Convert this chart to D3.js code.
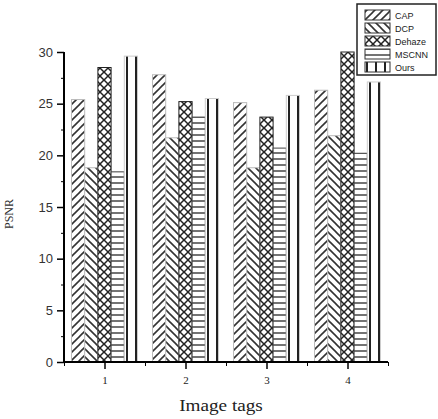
<!DOCTYPE html>
<html>
<head>
<meta charset="utf-8">
<script src="https://cdn.jsdelivr.net/npm/d3@7"></script>
<style>
body{margin:0;background:#fff}
</style>
</head>
<body>
<script>
var tags=["1","2","3","4"]
var methods=["CAP","DCP","Dehaze","MSCNN","Ours"]
var cap=[25.4,27.8,25.1,26.3]
var dcp=[18.8,21.7,18.8,21.9]
var dehaze=[28.5,25.2,23.7,30.0]
var mscnn=[18.4,23.7,20.7,20.2]
var ours=[29.6,25.5,25.8,27.1]
var yTicks=[0,5,10,15,20,25,30]

var series=[cap,dcp,dehaze,mscnn,ours]
var screen={width:438,height:419}
var margin={top:52,right:50,bottom:57,left:64}

var svg=d3.select("body").append("svg")
  .attr("width",screen.width)
  .attr("height",screen.height)

var defs=svg.append("defs")
// hatch patterns, one per method
var pat=function(id,w,h,lines,col,sw){
  var p=defs.append("pattern").attr("id",id)
    .attr("patternUnits","userSpaceOnUse")
    .attr("width",w).attr("height",h)
  p.append("rect").attr("width",w).attr("height",h).style("fill","#fff")
  lines.forEach(function(l){
    p.append("line").attr("x1",l[0]).attr("y1",l[1]).attr("x2",l[2]).attr("y2",l[3])
      .style("stroke",col).style("stroke-width",sw)
  })
}
pat("p0",8,8,[[0,8,8,0],[-2,2,2,-2],[6,10,10,6]],"#333",1.6)
pat("p1",8,8,[[0,0,8,8],[-2,6,2,10],[6,-2,10,2]],"#333",1.6)
pat("p2",8,8,[[0,8,8,0],[-2,2,2,-2],[6,10,10,6],[0,0,8,8],[-2,6,2,10],[6,-2,10,2]],"#222",1.5)
pat("p3",6,6,[[0,3,6,3]],"#444",1.5)
pat("p4",9,6,[[1,0,1,6]],"#222",2)

var borders=["#bbb","#bbb","#222","#444","#ccc"]

var xScale=d3.scaleLinear().domain([0.5,4.5]).range([margin.left,screen.width-margin.right])
var band=d3.scaleBand().domain(tags).range([margin.left,screen.width-margin.right]).paddingInner(0.185).paddingOuter(0.0925)
var inner=d3.scaleBand().domain(methods).range([0,band.bandwidth()])
var yScale=d3.scaleLinear().domain([0,30]).range([screen.height-margin.bottom,margin.top])

series.forEach(function(vals,si){
  svg.append("g").attr("id","s"+si).selectAll("rect").data(vals).enter().append("rect")
    .attr("x",function(d,i){return band(tags[i])+inner(methods[si])})
    .attr("y",function(d){return yScale(d)})
    .attr("width",inner.bandwidth())
    .attr("height",function(d){return yScale(0)-yScale(d)})
    .style("fill","url(#p"+si+")")
    .style("stroke",borders[si])
    .style("stroke-width",1)
})

// y axis
var yAxis=svg.append("g").attr("transform","translate("+margin.left+",0)")
  .call(d3.axisLeft(yScale).tickValues(yTicks).tickSize(7).tickPadding(4))
yAxis.select(".domain").attr("d","M0,"+yScale(30)+"V"+yScale(0)).style("stroke-width",2)
yAxis.selectAll("line").style("stroke-width",1.5)
yAxis.selectAll("text").style("font-family","Liberation Sans, Arial").style("font-size","13px").attr("fill","#333")
svg.append("g").attr("transform","translate("+margin.left+",0)")
  .call(d3.axisLeft(yScale).tickValues([2.5,7.5,12.5,17.5,22.5,27.5]).tickSize(3).tickFormat(""))
  .select(".domain").remove()

// x axis
var xAxis=svg.append("g").attr("transform","translate(0,"+yScale(0)+")")
  .call(d3.axisBottom(xScale).tickValues([1,2,3,4]).tickFormat(d3.format("d")).tickSize(7).tickPadding(7))
xAxis.select(".domain").attr("d","M"+margin.left+",0H"+xScale(4.5)).style("stroke-width",2)
xAxis.selectAll("line").style("stroke-width",1.5)
xAxis.selectAll("text").style("font-family","Liberation Serif, Times New Roman").style("font-size","11px").attr("fill","#222")
svg.append("g").attr("transform","translate(0,"+yScale(0)+")")
  .call(d3.axisBottom(xScale).tickValues([0.5,1.5,2.5,3.5,4.5]).tickSize(4).tickFormat(""))
  .select(".domain").remove()

svg.append("text").attr("transform","translate(221,411) scale(1.2,1)")
  .attr("text-anchor","middle").style("font-family","Liberation Serif, Times New Roman")
  .style("font-size","16px").attr("fill","#222").text("Image tags")
svg.append("text").attr("transform","translate(13,214) rotate(-90)")
  .attr("text-anchor","middle").style("font-family","Liberation Serif, Times New Roman")
  .style("font-size","12px").attr("fill","#333").text("PSNR")

// legend
var leg=svg.append("g").attr("transform","translate(357,4)")
leg.append("rect").attr("width",79).attr("height",71).style("fill","#fff").style("stroke","#222").style("stroke-width",1.5)
methods.forEach(function(m,i){
  leg.append("rect").attr("x",8).attr("y",6+i*13).attr("width",25).attr("height",10)
    .style("fill","url(#p"+i+")").style("stroke","#333").style("stroke-width",1)
  leg.append("text").attr("x",38).attr("y",14.5+i*13)
    .style("font-family","Liberation Sans, Arial").style("font-size","9px").attr("fill","#222").text(m)
})
</script>
</body>
</html>
